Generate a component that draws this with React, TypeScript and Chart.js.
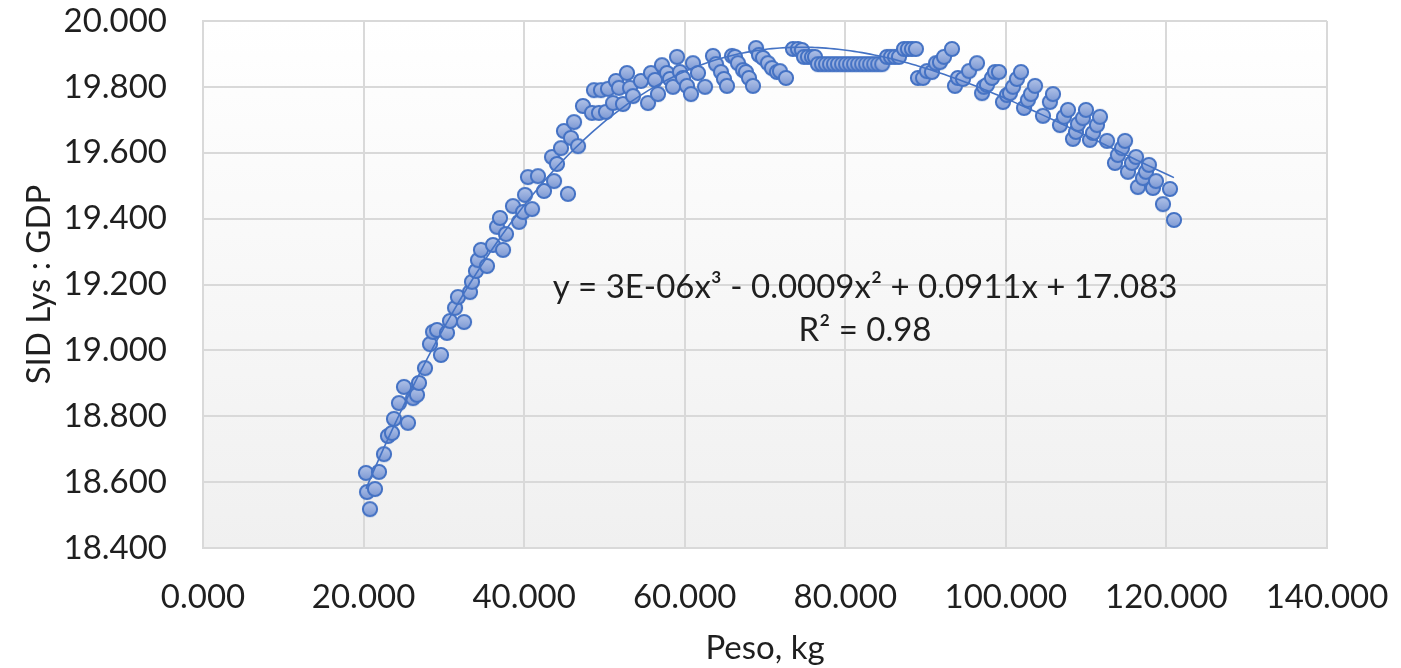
import React, { useEffect, useRef } from "react";
import { Chart, registerables } from "chart.js";

Chart.register(...registerables);

// Body weight (kg)
const pesoKg: number[] = [
  20.30, 20.43, 20.80, 21.42, 21.92, 22.54, 23.04, 23.54, 23.79, 24.41,
  25.03, 25.53, 26.16, 26.65, 26.90, 27.65, 28.27, 28.65, 29.15, 29.64,
  30.39, 30.76, 31.39, 31.76, 32.51, 33.25, 33.50, 34.00, 34.25, 34.62,
  35.37, 36.12, 36.62, 36.99, 37.37, 37.74, 38.61, 39.36, 39.86, 40.11,
  40.48, 40.98, 41.72, 42.47, 43.47, 43.72, 44.09, 44.59, 44.96, 45.46,
  45.83, 46.21, 46.71, 47.33, 48.45, 48.70, 49.32, 49.57, 50.19, 50.44,
  51.07, 51.44, 51.81, 52.31, 52.81, 53.19, 53.56, 54.55, 55.43, 55.80,
  56.30, 56.67, 57.17, 57.79, 58.16, 58.54, 59.04, 59.41, 59.78, 60.28,
  60.78, 61.03, 61.65, 62.53, 63.52, 63.90, 64.52, 64.89, 65.26, 65.89,
  66.26, 66.63, 67.26, 67.63, 68.00, 68.50, 68.88, 69.25, 69.75, 70.37,
  70.87, 71.49, 71.86, 72.61, 73.48, 74.11, 74.60, 74.85, 75.35, 75.85,
  76.22,
  76.60, 77.10, 77.60, 78.10, 78.60, 79.10, 79.60, 80.10, 80.60, 81.10,
  81.60, 82.10, 82.60, 83.10, 83.60, 84.10, 84.60,
  85.19, 85.69, 86.19, 86.69, 87.31, 87.81, 88.31, 88.80, 89.05, 89.68,
  90.17, 90.80, 91.30, 91.79, 92.29, 93.29, 93.66, 94.03, 94.66, 95.41,
  96.40, 97.03, 97.27, 97.65, 98.27, 98.64, 99.14, 99.64, 100.14, 100.51,
  100.89, 101.38, 101.88, 102.26, 102.75, 103.13, 103.63, 104.62, 105.49, 105.87,
  106.74, 107.24, 107.74, 108.36, 108.73, 108.98, 109.60, 109.98, 110.48, 110.85,
  111.35, 111.72, 112.60, 113.59, 113.96, 114.46, 114.84, 115.21, 115.71, 116.21,
  116.45, 117.08, 117.45, 117.82, 118.32, 118.70, 119.57, 120.44, 120.94,
];

// SID Lys : GDP ratio
const sidLys: number[] = [
  18.628, 18.570, 18.518, 18.579, 18.631, 18.685, 18.740, 18.749, 18.792, 18.840,
  18.889, 18.780, 18.855, 18.865, 18.901, 18.946, 19.019, 19.056, 19.062, 18.986,
  19.053, 19.089, 19.129, 19.162, 19.086, 19.177, 19.208, 19.241, 19.274, 19.305,
  19.256, 19.320, 19.375, 19.402, 19.305, 19.353, 19.438, 19.390, 19.420, 19.472,
  19.526, 19.429, 19.529, 19.484, 19.587, 19.514, 19.566, 19.614, 19.666, 19.475,
  19.645, 19.693, 19.620, 19.742, 19.721, 19.790, 19.721, 19.790, 19.724, 19.794,
  19.751, 19.818, 19.797, 19.748, 19.842, 19.797, 19.772, 19.818, 19.751, 19.842,
  19.821, 19.778, 19.866, 19.842, 19.824, 19.800, 19.891, 19.845, 19.827, 19.803,
  19.778, 19.872, 19.842, 19.800, 19.894, 19.869, 19.845, 19.824, 19.803, 19.894,
  19.891, 19.872, 19.851, 19.845, 19.827, 19.803, 19.918, 19.897, 19.888, 19.872,
  19.857, 19.845, 19.848, 19.827, 19.915, 19.915, 19.912, 19.891, 19.891, 19.891,
  19.891,
  19.869, 19.869, 19.869, 19.869, 19.869, 19.869, 19.869, 19.869, 19.869, 19.869,
  19.869, 19.869, 19.869, 19.869, 19.869, 19.869, 19.869,
  19.891, 19.891, 19.891, 19.891, 19.915, 19.915, 19.915, 19.915, 19.827, 19.827,
  19.848, 19.845, 19.872, 19.875, 19.891, 19.915, 19.803, 19.827, 19.824, 19.848,
  19.872, 19.781, 19.800, 19.806, 19.827, 19.845, 19.845, 19.754, 19.775, 19.781,
  19.800, 19.824, 19.845, 19.736, 19.760, 19.778, 19.803, 19.712, 19.754, 19.778,
  19.684, 19.709, 19.730, 19.642, 19.663, 19.687, 19.705, 19.730, 19.639, 19.660,
  19.684, 19.709, 19.636, 19.569, 19.593, 19.614, 19.636, 19.542, 19.569, 19.587,
  19.496, 19.523, 19.542, 19.563, 19.493, 19.514, 19.444, 19.490, 19.396,
];

const xTickValues: number[] = [0, 20, 40, 60, 80, 100, 120, 140];
const yTickValues: number[] = [18.4, 18.6, 18.8, 19.0, 19.2, 19.4, 19.6, 19.8, 20.0];

const xAxisTitle = "Peso, kg";
const yAxisTitle = "SID Lys : GDP";
const equationLine = "y = 3E-06x³ - 0.0009x² + 0.0911x + 17.083";
const rSquaredLine = "R² = 0.98";

const FONT = "Lato, 'Open Sans', sans-serif";
const TEXT = "#1f1f1f";
const GRID = "#d9d9d9";
const BLUE = "#4472c4";

// Least-squares cubic trendline computed from the data
function fitCubic(xs: number[], ys: number[]) {
  const c = 70, s = 50;
  const n = 4;
  const A: number[][] = Array.from({ length: n }, () => Array(n + 1).fill(0));
  for (let k = 0; k < xs.length; k++) {
    const t = (xs[k] - c) / s;
    const p = [1, t, t * t, t * t * t];
    for (let i = 0; i < n; i++) {
      for (let j = 0; j < n; j++) A[i][j] += p[i] * p[j];
      A[i][n] += p[i] * ys[k];
    }
  }
  for (let col = 0; col < n; col++) {
    let piv = col;
    for (let r = col + 1; r < n; r++) if (Math.abs(A[r][col]) > Math.abs(A[piv][col])) piv = r;
    [A[col], A[piv]] = [A[piv], A[col]];
    for (let r = 0; r < n; r++) {
      if (r === col) continue;
      const f = A[r][col] / A[col][col];
      for (let k = col; k <= n; k++) A[r][k] -= f * A[col][k];
    }
  }
  const coef = A.map((row, i) => row[n] / row[i]);
  return (x: number) => {
    const t = (x - c) / s;
    return coef[0] + coef[1] * t + coef[2] * t * t + coef[3] * t * t * t;
  };
}

function makeMarker(): HTMLCanvasElement {
  const cv = document.createElement("canvas");
  cv.width = 20;
  cv.height = 20;
  const ctx = cv.getContext("2d")!;
  const g = ctx.createLinearGradient(0, 3, 0, 17);
  g.addColorStop(0, "#b2c3e8");
  g.addColorStop(1, "#7d99d4");
  ctx.beginPath();
  ctx.arc(10, 10, 7.1, 0, Math.PI * 2);
  ctx.fillStyle = g;
  ctx.fill();
  ctx.lineWidth = 2;
  ctx.strokeStyle = BLUE;
  ctx.stroke();
  return cv;
}

const plotBackground = {
  id: "plotBackground",
  beforeDraw(chart: any) {
    const { ctx, chartArea } = chart;
    if (!chartArea) return;
    ctx.save();
    const g = ctx.createLinearGradient(0, chartArea.top, 0, chartArea.bottom);
    g.addColorStop(0, "#ffffff");
    g.addColorStop(1, "#f0f0f0");
    ctx.fillStyle = g;
    ctx.fillRect(chartArea.left, chartArea.top, chartArea.right - chartArea.left, chartArea.bottom - chartArea.top);
    ctx.restore();
  },
};

const trendLabel = {
  id: "trendLabel",
  afterDraw(chart: any) {
    const { ctx, chartArea } = chart;
    const w = chartArea.right - chartArea.left;
    const h = chartArea.bottom - chartArea.top;
    ctx.save();
    ctx.font = `33px ${FONT}`;
    ctx.fillStyle = TEXT;
    ctx.textAlign = "center";
    ctx.textBaseline = "middle";
    ctx.fillText(equationLine, chartArea.left + 0.589 * w, chartArea.top + 0.505 * h);
    ctx.fillText(rSquaredLine, chartArea.left + 0.589 * w, chartArea.top + 0.587 * h);
    ctx.restore();
  },
};

export default function App() {
  const ref = useRef<HTMLCanvasElement | null>(null);

  useEffect(() => {
    if (!ref.current) return;
    const poly = fitCubic(pesoKg, sidLys);
    const points = pesoKg.map((x, i) => ({ x, y: sidLys[i] }));
    const trend = pesoKg.map((x) => ({ x, y: poly(x) }));
    const marker = makeMarker();

    const chart = new Chart(ref.current, {
      type: "scatter",
      data: {
        datasets: [
          {
            label: "Poly. (SID Lys : GDP)",
            data: trend,
            showLine: true,
            borderColor: BLUE,
            borderWidth: 1.6,
            pointRadius: 0,
            fill: false,
            tension: 0,
          },
          {
            label: "SID Lys : GDP",
            data: points,
            pointStyle: marker as any,
            pointRadius: 8,
            backgroundColor: "#8faadc",
            borderColor: BLUE,
          },
        ],
      },
      options: {
        animation: false,
        responsive: false,
        devicePixelRatio: 1,
        layout: { padding: { top: 21, right: 74, left: 0, bottom: 0 } },
        plugins: { legend: { display: false }, tooltip: { enabled: false } },
        scales: {
          x: {
            type: "linear",
            min: 0,
            max: 140,
            afterBuildTicks: (s: any) => {
              s.ticks = xTickValues.map((v) => ({ value: v }));
            },
            afterFit: (s: any) => {
              s.height = 120;
              s.paddingLeft = 0;
              s.paddingRight = 0;
            },
            grid: { color: GRID, lineWidth: 2, drawTicks: false },
            border: { color: GRID, width: 2 },
            ticks: {
              padding: 30,
              maxRotation: 0,
              autoSkip: false,
              color: TEXT,
              font: { family: FONT, size: 33 },
              callback: (v: any) => Number(v).toFixed(3),
            },
            title: {
              display: true,
              text: xAxisTitle,
              color: TEXT,
              font: { family: FONT, size: 33 },
              padding: 0,
            },
          },
          y: {
            type: "linear",
            min: 18.4,
            max: 20.0,
            afterBuildTicks: (s: any) => {
              s.ticks = yTickValues.map((v) => ({ value: v }));
            },
            afterFit: (s: any) => {
              s.width = 203;
              s.paddingTop = 0;
              s.paddingBottom = 0;
            },
            grid: { color: GRID, lineWidth: 2, drawTicks: false },
            border: { color: GRID, width: 2 },
            ticks: {
              padding: 36,
              autoSkip: false,
              color: TEXT,
              font: { family: FONT, size: 33 },
              callback: (v: any) => Number(v).toFixed(3),
            },
            title: {
              display: true,
              text: yAxisTitle,
              color: TEXT,
              font: { family: FONT, size: 33 },
              padding: 20,
            },
          },
        },
      },
      plugins: [plotBackground, trendLabel],
    });
    return () => chart.destroy();
  }, []);

  return (
    <div style={{ position: "fixed", left: 0, top: 0, width: 1401, height: 668, background: "#fff" }}>
      <canvas ref={ref} width={1401} height={668} style={{ width: 1401, height: 668, display: "block" }} />
    </div>
  );
}
